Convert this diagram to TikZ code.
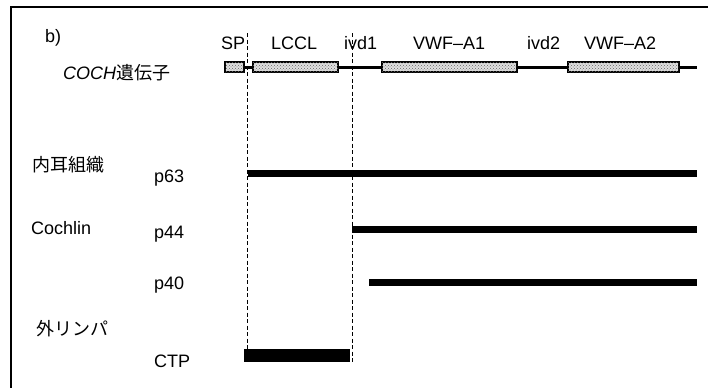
\documentclass[tikz,border=0pt]{standalone}
\usepackage{fontspec}
\usetikzlibrary{patterns}
\setmainfont{Liberation Sans}
\newfontfamily\jpfont{Noto Sans CJK JP}
\begin{document}
\begin{tikzpicture}[x=1pt,y=-1pt,
  lbl/.style={font=\fontsize{18}{20}\selectfont, inner sep=0pt, anchor=west},
  dom/.style={draw=black, line width=1.2pt, fill=gray!25, postaction={pattern=crosshatch dots, pattern color=gray!80!black}, inner sep=0pt, minimum height=10pt},
  prot/.style={line width=7pt},
  cut/.style={line width=1pt, dash pattern=on 4pt off 2.5pt}]
\useasboundingbox (0,0) rectangle (710,388);
% frame
\draw[line width=1.5pt] (11,388) -- (11,7) -- (708,7);
% labels
\node[lbl] (b) at (45,38) {b)};
\node[lbl] (sp) at (221,43) {SP};
\node[lbl] (lccl) at (271,43) {LCCL};
\node[lbl] (ivd1) at (344,43) {ivd1};
\node[lbl] (vwf1) at (413,43) {VWF–A1};
\node[lbl] (ivd2) at (527,43) {ivd2};
\node[lbl] (vwf2) at (584,43) {VWF–A2};
\node[lbl] (gene) at (63,73) {\itshape COCH\upshape\jpfont 遺伝子};
\node[lbl] (ear) at (32,165) {\jpfont 内耳組織};
\node[lbl] (coch) at (31,228) {Cochlin};
\node[lbl] (peri) at (36,329) {\jpfont 外リンパ};
\node[lbl] (p63) at (154,178) {p63};
\node[lbl] (p44) at (154,234) {p44};
\node[lbl] (p40) at (154,285) {p40};
\node[lbl] (ctp) at (154,361) {CTP};
% gene
\coordinate (gs) at (225,67);
\coordinate (ge) at (697,67);
\draw[line width=3pt] (gs) -- (ge);
\node[dom, minimum width=19pt] (bsp) at (234.5,67) {};
\node[dom, minimum width=85pt] (blccl) at (295.5,67) {};
\node[dom, minimum width=135pt] (bv1) at (449.5,67) {};
\node[dom, minimum width=111pt] (bv2) at (623.5,67) {};
% cut lines
\coordinate (c1t) at (247,33); \coordinate (c1b) at (247,360);
\coordinate (c2t) at (352,33); \coordinate (c2b) at (352,362);
\draw[cut] (c1t) -- (c1b);
\draw[cut] (c2t) -- (c2b);
% proteins
\coordinate (a63) at (248,173); \coordinate (e63) at (697,173);
\coordinate (a44) at (352,229); \coordinate (e44) at (697,229);
\coordinate (a40) at (369,282); \coordinate (e40) at (697,282);
\draw[prot] (a63) -- (e63);
\draw[prot] (a44) -- (e44);
\draw[prot] (a40) -- (e40);
\node[fill=black, inner sep=0pt, minimum width=106pt, minimum height=13pt] (bctp) at (297,355) {};
\end{tikzpicture}
\end{document}
